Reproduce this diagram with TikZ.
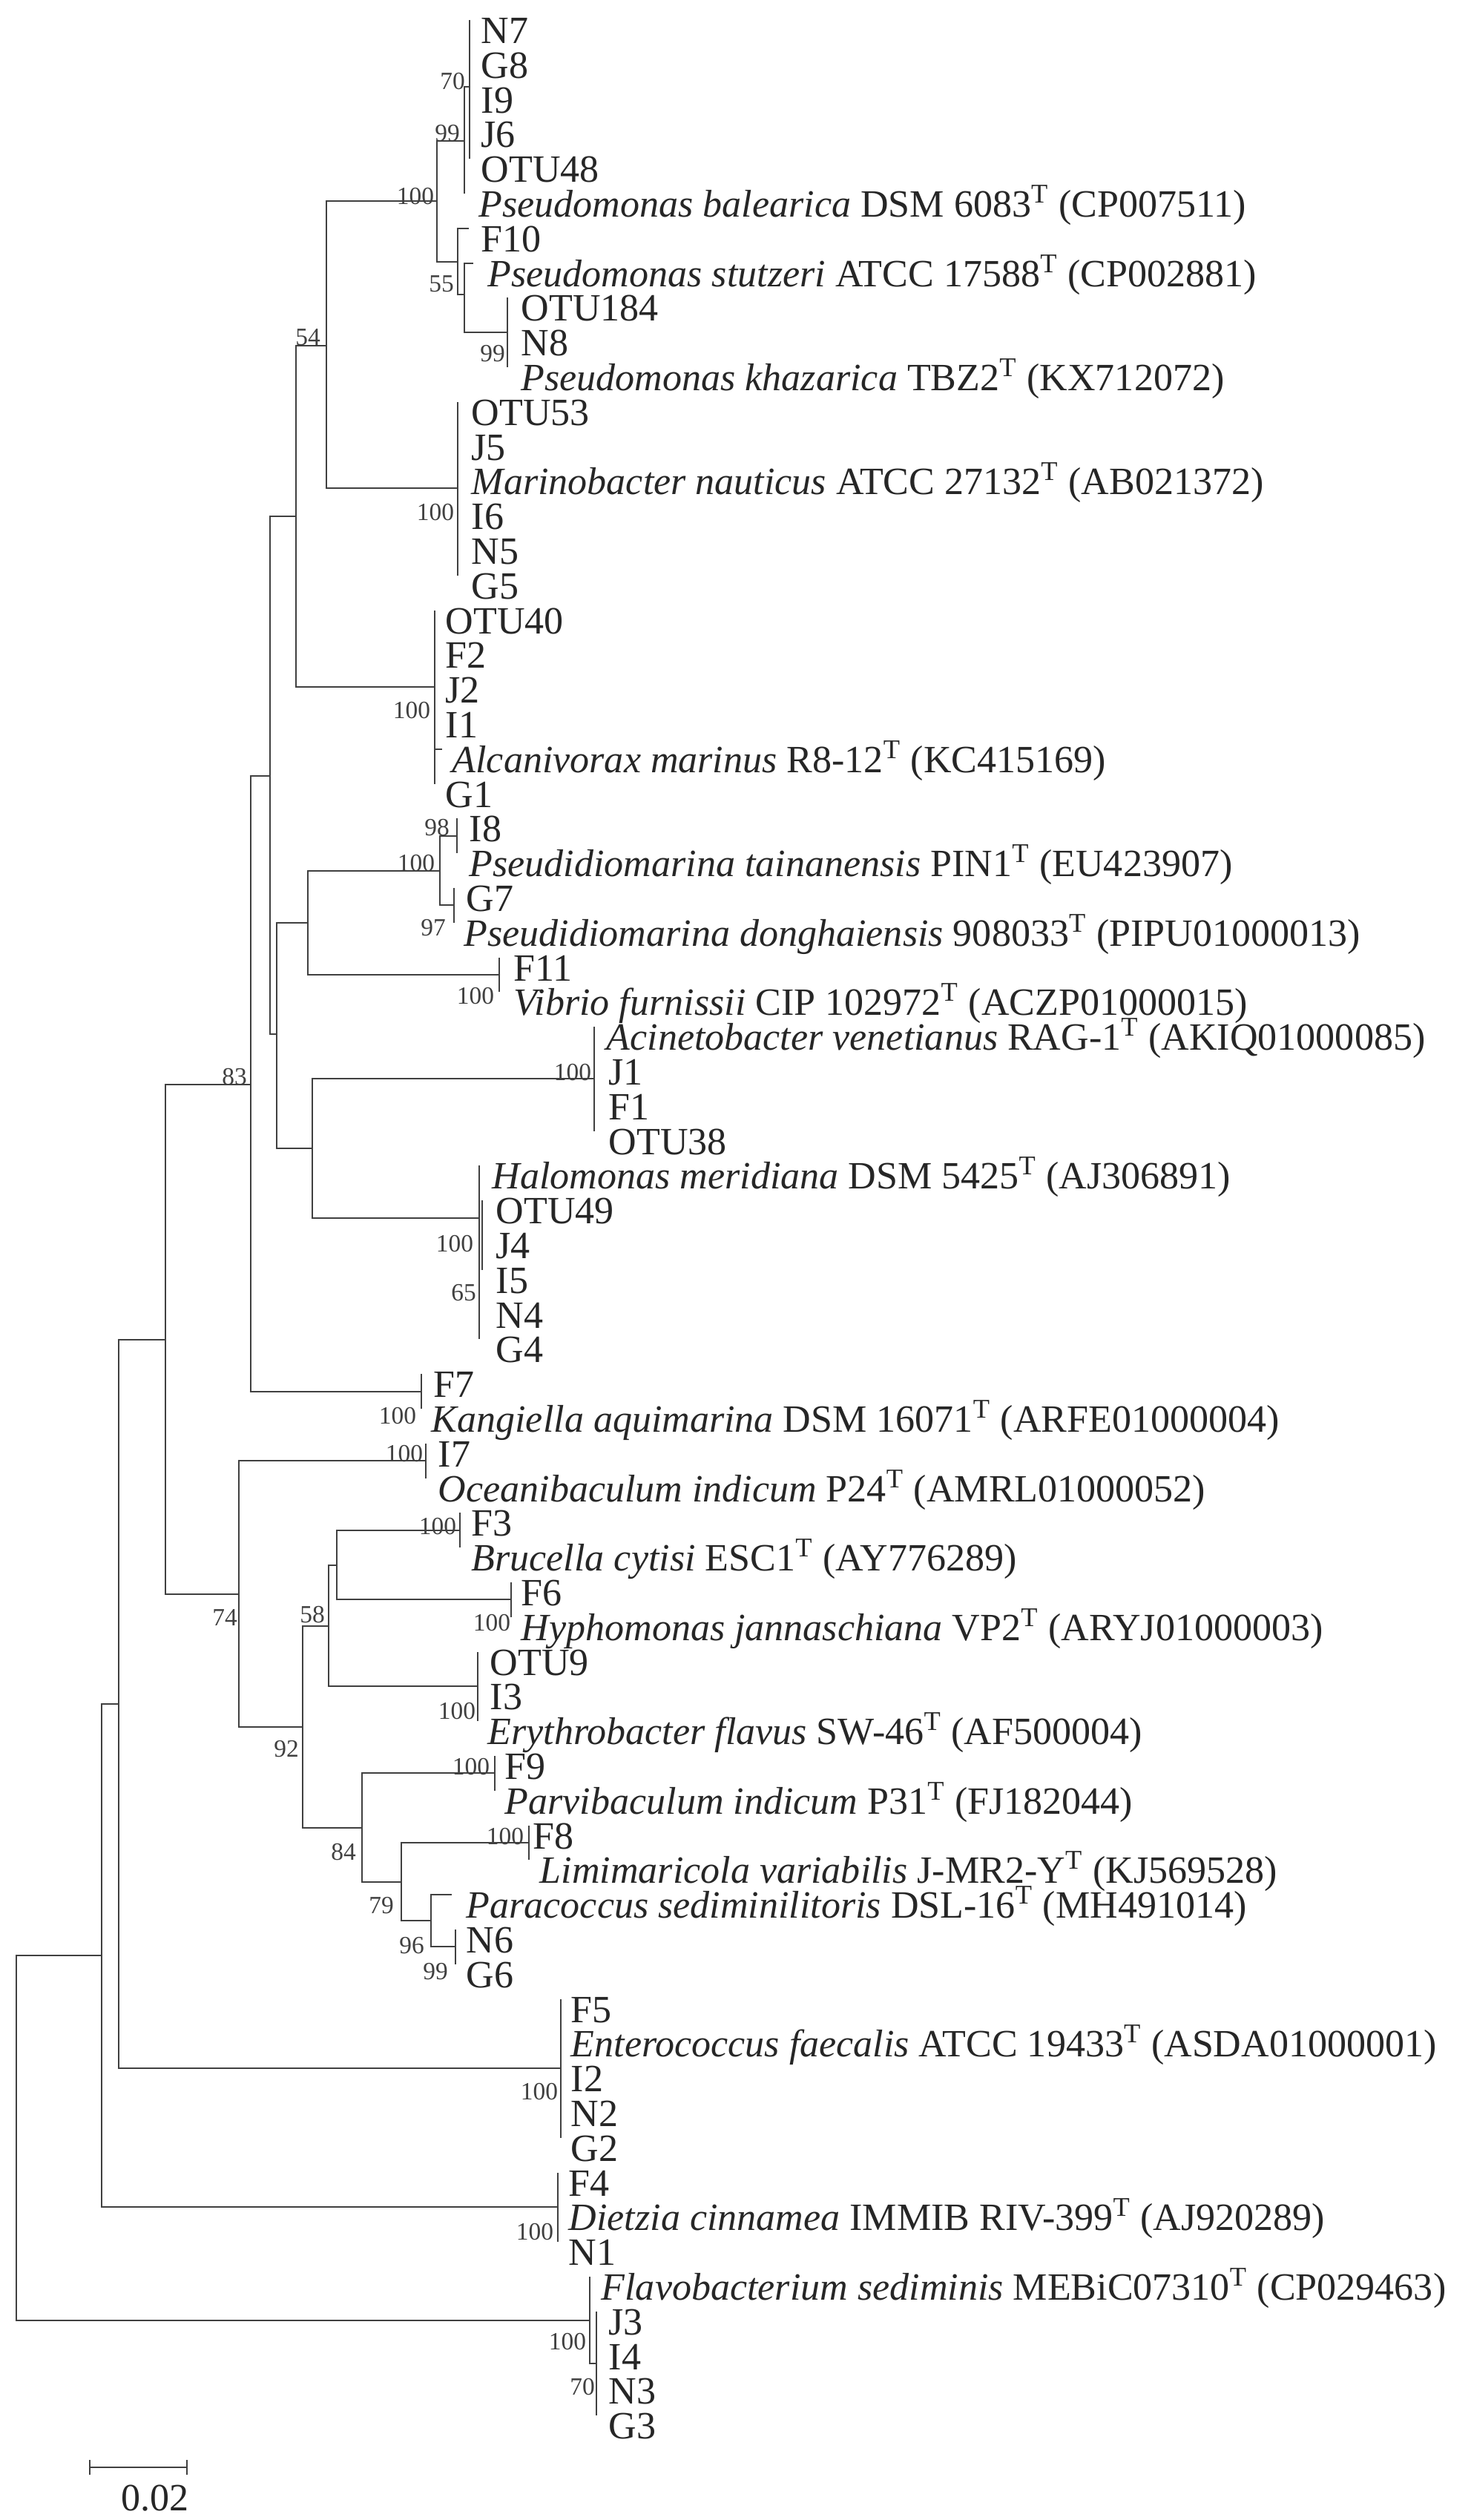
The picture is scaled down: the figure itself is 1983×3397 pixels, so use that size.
\documentclass[tikz,border=0pt]{standalone}
\usepackage{fontspec}
\setmainfont{Liberation Serif}

\begin{document}
\begin{tikzpicture}[x=0.01cm, y=-0.01cm,
  every node/.style={font=\fontsize{14.8}{16}\selectfont, text=black!85},
  branch/.style={draw=black!75, line width=0.8pt},
  leaf/.style={anchor=base west, inner sep=0pt, yshift=-3.1mm},
  boot/.style={font=\fontsize{9.5}{10}\selectfont, inner sep=0pt, text=black!75}]
  \useasboundingbox (0,0) rectangle (1983,3397);

  % internal nodes of the tree
  \coordinate (root) at (22,2882);
  \coordinate (n137) at (137,2636);
  \coordinate (n160) at (160,2297);
  \coordinate (n223) at (223,1806);
  \coordinate (n338) at (338,1462);
  \coordinate (n364) at (364,1046);
  \coordinate (n399) at (399,696);
  \coordinate (n440) at (440,466);
  \coordinate (pse) at (589,271);
  \coordinate (n99a) at (626,190);
  \coordinate (n70a) at (633,117);
  \coordinate (n55) at (617,353);
  \coordinate (n628) at (626,397);
  \coordinate (n684) at (684,448);
  \coordinate (mar) at (617,658);
  \coordinate (alc) at (586,926);
  \coordinate (n373) at (373,1394);
  \coordinate (n415) at (415,1244);
  \coordinate (pdi) at (593,1174);
  \coordinate (n98) at (616,1127);
  \coordinate (n97) at (612,1220);
  \coordinate (vib) at (673,1314);
  \coordinate (n421) at (421,1548);
  \coordinate (aci) at (801,1454);
  \coordinate (hal) at (646,1642);
  \coordinate (kan) at (568,1876);
  \coordinate (n322) at (322,2149);
  \coordinate (i7c) at (574,1969);
  \coordinate (n408) at (408,2328);
  \coordinate (n443) at (443,2192);
  \coordinate (n454) at (454,2110);
  \coordinate (f3c) at (620,2063);
  \coordinate (f6c) at (689,2156);
  \coordinate (otu9) at (644,2273);
  \coordinate (n488) at (488,2464);
  \coordinate (f9c) at (667,2390);
  \coordinate (n541) at (541,2537);
  \coordinate (f8c) at (713,2484);
  \coordinate (n581) at (581,2589);
  \coordinate (n614) at (614,2624);
  \coordinate (ent) at (756,2788);
  \coordinate (dtz) at (752,2975);
  \coordinate (flv) at (795,3128);
  \coordinate (n804) at (804,3186);

  % tips and clade ends
  \coordinate (n70a-a) at (633,27);   \coordinate (n70a-b) at (633,214);
  \coordinate (tPbal) at (626,261);
  \coordinate (tF10) at (632,308);
  \coordinate (tPstu) at (638,355);
  \coordinate (n684-a) at (684,401);  \coordinate (n684-b) at (684,495);
  \coordinate (mar-a) at (617,542);   \coordinate (mar-b) at (617,776);
  \coordinate (alc-a) at (586,823);   \coordinate (alc-b) at (586,1057);
  \coordinate (tAmar) at (596,1010);
  \coordinate (n98-a) at (616,1103);  \coordinate (n98-b) at (616,1150);
  \coordinate (n97-a) at (612,1197);  \coordinate (n97-b) at (612,1244);
  \coordinate (vib-a) at (673,1291);  \coordinate (vib-b) at (673,1337);
  \coordinate (aci-a) at (801,1384);  \coordinate (aci-b) at (801,1525);
  \coordinate (hal-a) at (646,1571);  \coordinate (hal-b) at (646,1805);
  \coordinate (hal-c) at (650,1618);  \coordinate (hal-d) at (650,1712);
  \coordinate (kan-a) at (568,1852);  \coordinate (kan-b) at (568,1899);
  \coordinate (i7c-a) at (574,1946);  \coordinate (i7c-b) at (574,1993);
  \coordinate (f3c-a) at (620,2039);  \coordinate (f3c-b) at (620,2086);
  \coordinate (f6c-a) at (689,2133);  \coordinate (f6c-b) at (689,2180);
  \coordinate (otu9-a) at (644,2227); \coordinate (otu9-b) at (644,2320);
  \coordinate (f9c-a) at (667,2367);  \coordinate (f9c-b) at (667,2414);
  \coordinate (f8c-a) at (713,2461);  \coordinate (f8c-b) at (713,2507);
  \coordinate (tPsed) at (609,2554);
  \coordinate (n614-a) at (614,2601); \coordinate (n614-b) at (614,2648);
  \coordinate (ent-a) at (756,2695);  \coordinate (ent-b) at (756,2882);
  \coordinate (dtz-a) at (752,2929);  \coordinate (dtz-b) at (752,3022);
  \coordinate (tFsed) at (795,3069);
  \coordinate (n804-a) at (804,3116); \coordinate (n804-b) at (804,3256);

  % branches
  \draw[branch] (root) |- (n137);  \draw[branch] (root) |- (flv);
  \draw[branch] (n137) |- (n160);  \draw[branch] (n137) |- (dtz);
  \draw[branch] (n160) |- (n223);  \draw[branch] (n160) |- (ent);
  \draw[branch] (n223) |- (n338);  \draw[branch] (n223) |- (n322);
  \draw[branch] (n338) |- (n364);  \draw[branch] (n338) |- (kan);
  \draw[branch] (n364) |- (n399);  \draw[branch] (n364) |- (n373);
  \draw[branch] (n399) |- (n440);  \draw[branch] (n399) |- (alc);
  \draw[branch] (n440) |- (pse);   \draw[branch] (n440) |- (mar);
  \draw[branch] (pse) |- (n99a);   \draw[branch] (pse) |- (n55);
  \draw[branch] (n99a) |- (n70a);  \draw[branch] (n99a) |- (tPbal);
  \draw[branch] (n55) |- (tF10);   \draw[branch] (n55) |- (n628);
  \draw[branch] (n628) |- (tPstu); \draw[branch] (n628) |- (n684);
  \draw[branch] (alc) |- (tAmar);
  \draw[branch] (n373) |- (n415);  \draw[branch] (n373) |- (n421);
  \draw[branch] (n415) |- (pdi);   \draw[branch] (n415) |- (vib);
  \draw[branch] (pdi) |- (n98);    \draw[branch] (pdi) |- (n97);
  \draw[branch] (n421) |- (aci);   \draw[branch] (n421) |- (hal);
  \draw[branch] (n322) |- (i7c);   \draw[branch] (n322) |- (n408);
  \draw[branch] (n408) |- (n443);  \draw[branch] (n408) |- (n488);
  \draw[branch] (n443) |- (n454);  \draw[branch] (n443) |- (otu9);
  \draw[branch] (n454) |- (f3c);   \draw[branch] (n454) |- (f6c);
  \draw[branch] (n488) |- (f9c);   \draw[branch] (n488) |- (n541);
  \draw[branch] (n541) |- (f8c);   \draw[branch] (n541) |- (n581);
  \draw[branch] (n581) |- (tPsed); \draw[branch] (n581) |- (n614);
  \draw[branch] (flv) |- (tFsed);  \draw[branch] (flv) |- (n804);

  % collapsed clades
  \draw[branch] (n70a-a) -- (n70a-b);
  \draw[branch] (n684-a) -- (n684-b);
  \draw[branch] (mar-a) -- (mar-b);
  \draw[branch] (alc-a) -- (alc-b);
  \draw[branch] (n98-a) -- (n98-b);
  \draw[branch] (n97-a) -- (n97-b);
  \draw[branch] (vib-a) -- (vib-b);
  \draw[branch] (aci-a) -- (aci-b);
  \draw[branch] (hal-a) -- (hal-b);
  \draw[branch] (hal-c) -- (hal-d);
  \draw[branch] (kan-a) -- (kan-b);
  \draw[branch] (i7c-a) -- (i7c-b);
  \draw[branch] (f3c-a) -- (f3c-b);
  \draw[branch] (f6c-a) -- (f6c-b);
  \draw[branch] (otu9-a) -- (otu9-b);
  \draw[branch] (f9c-a) -- (f9c-b);
  \draw[branch] (f8c-a) -- (f8c-b);
  \draw[branch] (n614-a) -- (n614-b);
  \draw[branch] (ent-a) -- (ent-b);
  \draw[branch] (dtz-a) -- (dtz-b);
  \draw[branch] (n804-a) -- (n804-b);

  % leaf labels
  \node[leaf] (N7) at (648,27) {N7};
  \node[leaf] (G8) at (648,74) {G8};
  \node[leaf] (I9) at (648,121) {I9};
  \node[leaf] (J6) at (648,167) {J6};
  \node[leaf] (OTU48) at (648,214) {OTU48};
  \node[leaf] (Pbal) at (645,261) {\textit{Pseudomonas balearica} DSM 6083\textsuperscript{T} (CP007511)};
  \node[leaf] (F10) at (648,308) {F10};
  \node[leaf] (Pstu) at (657,355) {\textit{Pseudomonas stutzeri} ATCC 17588\textsuperscript{T} (CP002881)};
  \node[leaf] (OTU184) at (702,401) {OTU184};
  \node[leaf] (N8) at (702,448) {N8};
  \node[leaf] (Pkha) at (702,495) {\textit{Pseudomonas khazarica} TBZ2\textsuperscript{T} (KX712072)};
  \node[leaf] (OTU53) at (635,542) {OTU53};
  \node[leaf] (J5) at (635,589) {J5};
  \node[leaf] (Mnau) at (635,635) {\textit{Marinobacter nauticus} ATCC 27132\textsuperscript{T} (AB021372)};
  \node[leaf] (I6) at (635,682) {I6};
  \node[leaf] (N5) at (635,729) {N5};
  \node[leaf] (G5) at (635,776) {G5};
  \node[leaf] (OTU40) at (600,823) {OTU40};
  \node[leaf] (F2) at (600,869) {F2};
  \node[leaf] (J2) at (600,916) {J2};
  \node[leaf] (I1) at (600,963) {I1};
  \node[leaf] (Amar) at (609,1010) {\textit{Alcanivorax marinus} R8-12\textsuperscript{T} (KC415169)};
  \node[leaf] (G1) at (600,1057) {G1};
  \node[leaf] (I8) at (632,1103) {I8};
  \node[leaf] (Ptai) at (632,1150) {\textit{Pseudidiomarina tainanensis} PIN1\textsuperscript{T} (EU423907)};
  \node[leaf] (G7) at (628,1197) {G7};
  \node[leaf] (Pdon) at (625,1244) {\textit{Pseudidiomarina donghaiensis} 908033\textsuperscript{T} (PIPU01000013)};
  \node[leaf] (F11) at (692,1291) {F11};
  \node[leaf] (Vfur) at (692,1337) {\textit{Vibrio furnissii} CIP 102972\textsuperscript{T} (ACZP01000015)};
  \node[leaf] (Aven) at (817,1384) {\textit{Acinetobacter venetianus} RAG-1\textsuperscript{T} (AKIQ01000085)};
  \node[leaf] (J1) at (820,1431) {J1};
  \node[leaf] (F1) at (820,1478) {F1};
  \node[leaf] (OTU38) at (820,1525) {OTU38};
  \node[leaf] (Hmer) at (663,1571) {\textit{Halomonas meridiana} DSM 5425\textsuperscript{T} (AJ306891)};
  \node[leaf] (OTU49) at (668,1618) {OTU49};
  \node[leaf] (J4) at (668,1665) {J4};
  \node[leaf] (I5) at (668,1712) {I5};
  \node[leaf] (N4) at (668,1759) {N4};
  \node[leaf] (G4) at (668,1805) {G4};
  \node[leaf] (F7) at (584,1852) {F7};
  \node[leaf] (Kaqu) at (581,1899) {\textit{Kangiella aquimarina} DSM 16071\textsuperscript{T} (ARFE01000004)};
  \node[leaf] (I7) at (590,1946) {I7};
  \node[leaf] (Oind) at (590,1993) {\textit{Oceanibaculum indicum} P24\textsuperscript{T} (AMRL01000052)};
  \node[leaf] (F3) at (635,2039) {F3};
  \node[leaf] (Bcyt) at (635,2086) {\textit{Brucella cytisi} ESC1\textsuperscript{T} (AY776289)};
  \node[leaf] (F6) at (702,2133) {F6};
  \node[leaf] (Hjan) at (702,2180) {\textit{Hyphomonas jannaschiana} VP2\textsuperscript{T} (ARYJ01000003)};
  \node[leaf] (OTU9) at (660,2227) {OTU9};
  \node[leaf] (I3) at (660,2273) {I3};
  \node[leaf] (Efla) at (657,2320) {\textit{Erythrobacter flavus} SW-46\textsuperscript{T} (AF500004)};
  \node[leaf] (F9) at (680,2367) {F9};
  \node[leaf] (Pind) at (680,2414) {\textit{Parvibaculum indicum} P31\textsuperscript{T} (FJ182044)};
  \node[leaf] (F8) at (718,2461) {F8};
  \node[leaf] (Lvar) at (727,2507) {\textit{Limimaricola variabilis} J-MR2-Y\textsuperscript{T} (KJ569528)};
  \node[leaf] (Psed) at (628,2554) {\textit{Paracoccus sediminilitoris} DSL-16\textsuperscript{T} (MH491014)};
  \node[leaf] (N6) at (628,2601) {N6};
  \node[leaf] (G6) at (628,2648) {G6};
  \node[leaf] (F5) at (769,2695) {F5};
  \node[leaf] (Efae) at (769,2741) {\textit{Enterococcus faecalis} ATCC 19433\textsuperscript{T} (ASDA01000001)};
  \node[leaf] (I2) at (769,2788) {I2};
  \node[leaf] (N2) at (769,2835) {N2};
  \node[leaf] (G2) at (769,2882) {G2};
  \node[leaf] (F4) at (766,2929) {F4};
  \node[leaf] (Dcin) at (766,2975) {\textit{Dietzia cinnamea} IMMIB RIV-399\textsuperscript{T} (AJ920289)};
  \node[leaf] (N1) at (766,3022) {N1};
  \node[leaf] (Fsed) at (810,3069) {\textit{Flavobacterium sediminis} MEBiC07310\textsuperscript{T} (CP029463)};
  \node[leaf] (J3) at (820,3116) {J3};
  \node[leaf] (I4) at (820,3163) {I4};
  \node[leaf] (N3) at (820,3209) {N3};
  \node[leaf] (G3) at (820,3256) {G3};

  % bootstrap values
  \node[boot] (b70a) at (610,110) {70};
  \node[boot] (b99a) at (603,180) {99};
  \node[boot] (bpse) at (560,265) {100};
  \node[boot] (b55) at (595,383) {55};
  \node[boot] (b684) at (664,477) {99};
  \node[boot] (b54) at (415,455) {54};
  \node[boot] (bmar) at (587,691) {100};
  \node[boot] (balc) at (555,958) {100};
  \node[boot] (b98) at (589,1116) {98};
  \node[boot] (bpdi) at (561,1164) {100};
  \node[boot] (b97) at (584,1251) {97};
  \node[boot] (bvib) at (641,1343) {100};
  \node[boot] (b83) at (316,1452) {83};
  \node[boot] (baci) at (772,1446) {100};
  \node[boot] (bhal) at (613,1677) {100};
  \node[boot] (b65) at (625,1743) {65};
  \node[boot] (bkan) at (536,1909) {100};
  \node[boot] (bi7c) at (545,1960) {100};
  \node[boot] (bf3c) at (590,2058) {100};
  \node[boot] (b74) at (303,2180) {74};
  \node[boot] (b58) at (421,2177) {58};
  \node[boot] (bf6c) at (663,2188) {100};
  \node[boot] (botu9) at (616,2307) {100};
  \node[boot] (b92) at (386,2358) {92};
  \node[boot] (bf9c) at (635,2382) {100};
  \node[boot] (bf8c) at (681,2476) {100};
  \node[boot] (b84) at (463,2497) {84};
  \node[boot] (b79) at (514,2569) {79};
  \node[boot] (b96) at (555,2623) {96};
  \node[boot] (b99c) at (587,2658) {99};
  \node[boot] (bent) at (727,2820) {100};
  \node[boot] (bdtz) at (721,3009) {100};
  \node[boot] (bflv) at (765,3157) {100};
  \node[boot] (b70b) at (785,3218) {70};

  % scale bar
  \coordinate (sb0) at (121,3326);
  \coordinate (sb1) at (252,3326);
  \draw[branch] (sb0) -- (sb1);
  \draw[branch] (sb0) ++(0,-10) -- ++(0,20);
  \draw[branch] (sb1) ++(0,-10) -- ++(0,20);
  \node (sblabel) at (209,3368) {0.02};
\end{tikzpicture}
\end{document}
